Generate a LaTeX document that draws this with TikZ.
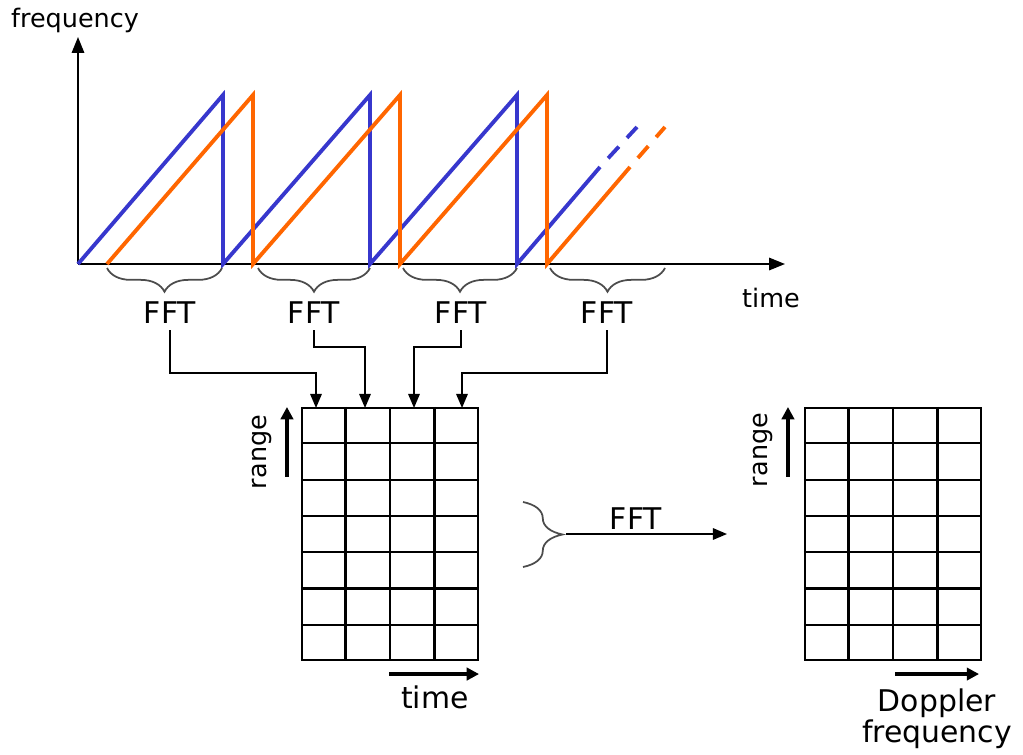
\documentclass[tikz,border=0pt]{standalone}
\usepackage{fontspec}
\setmainfont{DejaVu Sans}
\usetikzlibrary{arrows.meta,calc,decorations.pathreplacing}

\definecolor{chirpblue}{RGB}{55,55,205}
\definecolor{chirporange}{RGB}{255,102,0}

\tikzset{
	axis/.style={line width=1.1pt,-{Triangle[length=9pt,width=7pt]}},
	ramp/.style={line width=2.2pt},
	tail/.style={ramp,dash pattern={on 0pt off 6.8pt on 9pt off 6.8pt on 8pt}},
	conn/.style={line width=1pt,-{Triangle[length=8pt,width=6.5pt]}},
	dirarrow/.style={line width=2.2pt,-{Triangle[length=7pt,width=7pt]}},
	gridline/.style={line width=1.2pt},
	matbox/.style={draw,line width=1.2pt,minimum width=3.52cm,minimum height=5.04cm,inner sep=0pt},
	bigtext/.style={font=\fontsize{17}{17.5}\selectfont},
	smalltext/.style={font=\fontsize{14.5}{17}\selectfont},
	curly/.style={decorate,decoration={brace,mirror,amplitude=13.5pt},line width=1pt,draw=black!70},
	curlybig/.style={decorate,decoration={brace,amplitude=22.5pt},line width=1pt,draw=black!70},
}

\begin{document}
\begin{tikzpicture}[x=0.02cm,y=-0.02cm]
		\useasboundingbox (0,0) rectangle (1023,754);
		
		% Axes
		\coordinate (O) at (78,264);
		\coordinate (ytop) at (78,37);
		\coordinate (xend) at (785,264);
		\draw[axis] (O) -- (ytop);
		\draw[axis] (O) -- (xend);
		\node[smalltext] (flabel) at (75,20) {frequency};
		\node[smalltext] (tlabel) at (771,298) {time};
		
		% transmitted and received chirps
		\draw[ramp,chirpblue] (O) -- (223,95) -- (223,264) -- (370,95) -- (370,264)
		-- (517,95) -- (517,264) -- (600,167);
		\draw[tail,chirpblue] (600,167) -- (637,127);
		\draw[ramp,chirporange] (107,264) -- (253,95) -- (253,264) -- (400,95) -- (400,264)
		-- (547,95) -- (547,264) -- (630,167);
		\draw[tail,chirporange] (630,167) -- (665,127);
		
		% braces over each chirp
		\draw[curly] (107,268) -- (222,268);
		\draw[curly] (258,268) -- (370,268);
		\draw[curly] (403,268) -- (517,268);
		\draw[curly] (550,268) -- (665,268);
		
		\node[bigtext] (fft1) at (170,313) {FFT};
		\node[bigtext] (fft2) at (314,313) {FFT};
		\node[bigtext] (fft3) at (461,313) {FFT};
		\node[bigtext] (fft4) at (607,313) {FFT};
		
		% range-time matrix
		\node[matbox] (rtmap) at (390,534) {};
		\node[matbox] (rdmap) at (893,534) {};
		\foreach \m in {rtmap,rdmap}{
			\foreach \i in {1,2,3}
			\draw[gridline] ($(\m.north west)!\i/4!(\m.north east)$) -- ($(\m.south west)!\i/4!(\m.south east)$);
			\foreach \j in {1,...,6}
			\draw[gridline] ($(\m.north west)!\j/7!(\m.south west)$) -- ($(\m.north east)!\j/7!(\m.south east)$);
		}
		
		\coordinate (in1) at (316,408);
		\coordinate (in2) at (365,408);
		\coordinate (in3) at (414,408);
		\coordinate (in4) at (462,408);
		\draw[conn] (fft1.south) |- ($(in1)+(0,-35)$) -- (in1);
		\draw[conn] (fft2.south) |- ($(in2)+(0,-61)$) -- (in2);
		\draw[conn] (fft3.south) |- ($(in3)+(0,-61)$) -- (in3);
		\draw[conn] (fft4.south) |- ($(in4)+(0,-35)$) -- (in4);
		
		% axis hints of the matrices
		\draw[dirarrow] ($(rtmap.north west)+(-14,70)$) -- ($(rtmap.north west)+(-14,0)$);
		\node[smalltext,rotate=90] (rtrange) at (262,452) {range};
		\draw[dirarrow] ($(rtmap.south east)+(-90,13)$) -- ($(rtmap.south east)+(0,13)$);
		\node[bigtext] (rttime) at (435,697) {time};
		
		\draw[dirarrow] ($(rdmap.north west)+(-16,70)$) -- ($(rdmap.north west)+(-16,0)$);
		\node[smalltext,rotate=90] (rdrange) at (763,450) {range};
		\draw[dirarrow] ($(rdmap.south east)+(-87,13)$) -- ($(rdmap.south east)+(-3,13)$);
		\node[bigtext,align=center] (rddop) at (937,719) {Doppler\\frequency};
		
		% second FFT
		\draw[curlybig] (523,502) -- (523,567);
		\coordinate (brtip) at (566,534);
		\coordinate (dopin) at (727,534);
		\draw[conn] (brtip) -- (dopin);
		\node[bigtext] (fftd) at (636,519) {FFT};
		
	\end{tikzpicture}
\end{document}
